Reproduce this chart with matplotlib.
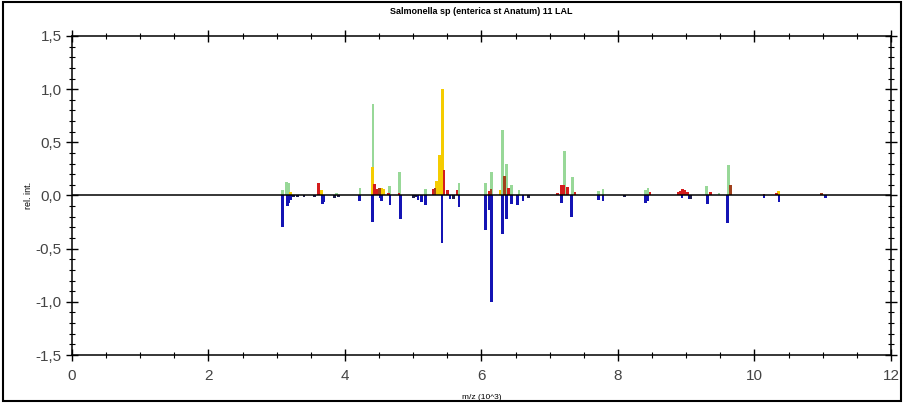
import matplotlib.pyplot as plt
from matplotlib.patches import Rectangle
from matplotlib.ticker import MultipleLocator, FormatStrFormatter

# peak lists (m/z in 10^3, relative intensity)
green_mz = [3.08, 3.14, 3.17, 3.88, 4.22, 4.41, 4.65, 4.80, 5.18, 5.67, 6.06, 6.15, 6.31,
            6.37, 6.44, 6.55, 7.22, 7.33, 7.71, 7.78, 8.40, 8.44, 9.30, 9.48, 9.62]
green_int = [0.05, 0.13, 0.12, 0.02, 0.07, 0.86, 0.09, 0.22, 0.06, 0.12, 0.12, 0.22, 0.62,
             0.30, 0.10, 0.05, 0.42, 0.17, 0.04, 0.06, 0.05, 0.07, 0.09, 0.02, 0.29]

yellow_mz = [3.20, 3.66, 4.40, 4.53, 4.57, 5.34, 5.39, 5.43, 6.27, 10.35]
yellow_int = [0.03, 0.05, 0.27, 0.07, 0.06, 0.14, 0.38, 1.00, 0.05, 0.04]

red_mz = [3.61, 4.43, 4.46, 4.49, 4.64, 4.79, 5.30, 5.45, 5.50, 5.64, 6.12, 6.40,
          7.11, 7.17, 7.20, 7.26, 7.37, 8.47, 8.88, 8.92, 8.95, 8.98, 9.02, 9.36, 9.64, 10.32]
red_int = [0.12, 0.11, 0.06, 0.05, 0.02, 0.02, 0.06, 0.24, 0.05, 0.05, 0.04, 0.07,
           0.02, 0.10, 0.10, 0.08, 0.03, 0.03, 0.03, 0.04, 0.06, 0.05, 0.03, 0.03, 0.06, 0.02]

brown_mz = [4.51, 5.32, 6.14, 6.34, 9.65, 10.14, 10.98]
brown_int = [0.07, 0.07, 0.06, 0.18, 0.10, 0.01, 0.02]

blue_mz = [3.08, 3.16, 3.18, 3.20, 3.67, 3.69, 4.21, 4.40, 4.52, 4.54, 4.66, 4.81, 5.07,
           5.12, 5.18, 5.42, 5.54, 5.67, 6.06, 6.12, 6.15, 6.31, 6.37, 6.44, 6.53, 6.61,
           7.17, 7.32, 7.72, 7.78, 8.40, 8.43, 8.94, 9.04, 9.31, 9.60, 10.14, 10.36, 11.04]
blue_int = [-0.30, -0.10, -0.07, -0.04, -0.08, -0.06, -0.05, -0.25, -0.02, -0.05, -0.09,
            -0.22, -0.04, -0.06, -0.09, -0.45, -0.03, -0.11, -0.32, -0.14, -1.00, -0.36,
            -0.22, -0.08, -0.09, -0.05, -0.07, -0.20, -0.04, -0.05, -0.07, -0.05, -0.02,
            -0.03, -0.08, -0.26, -0.02, -0.06, -0.02]

dark_mz = [3.25, 3.30, 3.40, 3.55, 3.85, 3.90, 5.00, 5.03, 5.59, 6.69, 8.10, 9.06]
dark_int = [-0.01, -0.01, -0.01, -0.01, -0.02, -0.01, -0.02, -0.01, -0.03, -0.02, -0.01, -0.03]

plt.rcParams['font.family'] = ['Liberation Sans', 'DejaVu Sans']

fig = plt.figure(figsize=(9.04, 4.03), dpi=100)
ax = fig.add_axes([0.0796, 0.1191, 0.9060, 0.7916])

w = 0.04
ax.bar(green_mz, green_int, width=w, color='#98d898', linewidth=0)
ax.bar(yellow_mz, yellow_int, width=w, color='#f5cc00', linewidth=0)
ax.bar(red_mz, red_int, width=w, color='#d41c1c', linewidth=0)
ax.bar(brown_mz, brown_int, width=w, color='#a0401c', linewidth=0)
ax.bar(blue_mz, blue_int, width=w, color='#1414b4', linewidth=0)
ax.bar(dark_mz, dark_int, width=w, color='#202050', linewidth=0)
ax.axhline(0, color='black', linewidth=1.1)

ax.set_xlim(0, 12)
ax.set_ylim(-1.5, 1.5)
ax.xaxis.set_major_locator(MultipleLocator(2))
ax.xaxis.set_minor_locator(MultipleLocator(0.5))
ax.yaxis.set_major_locator(MultipleLocator(0.5))
ax.yaxis.set_minor_locator(MultipleLocator(0.1))
ax.yaxis.set_major_formatter(FormatStrFormatter('%.1f'))
ax.set_yticklabels([t.replace('.', ',') for t in ['%.1f' % v for v in ax.get_yticks()]])

ax.tick_params(which='both', direction='inout', top=True, right=True, colors='black',
               labelcolor='#444444', labelsize=11)
ax.tick_params(axis='x', pad=6)
ax.tick_params(which='major', length=8, width=1)
ax.tick_params(which='minor', length=4, width=0.8)
for s in ax.spines.values():
    s.set_linewidth(1.1)

ax.set_title('Salmonella sp (enterica st Anatum) 11 LAL', fontsize=6.5, fontweight='bold', pad=16)
ax.set_xlabel('m/z (10^3)', fontsize=6, labelpad=8)
ax.set_ylabel('rel. int.', fontsize=6.5, labelpad=2)

fig.patches.append(Rectangle((0.003, 0.004), 0.994, 0.992, transform=fig.transFigure,
                             fill=False, edgecolor='black', linewidth=1.5))

fig.savefig('out.png', dpi=100)
